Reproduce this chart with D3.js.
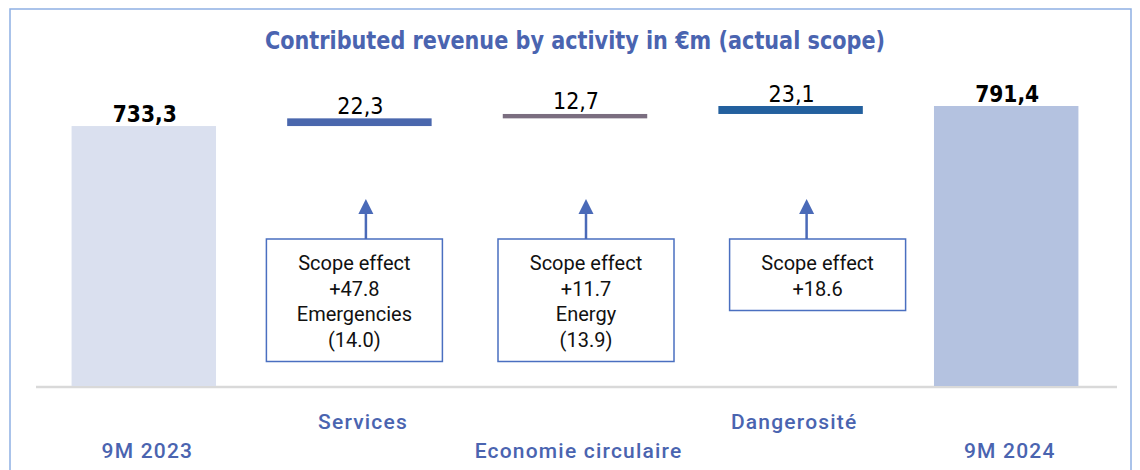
<!DOCTYPE html>
<html>
<head>
<meta charset="utf-8">
<script src="https://cdn.jsdelivr.net/npm/d3@7"></script>
<style>
  body { margin: 0; background: #fff; }
  svg { display: block; }
  .cond { font-family: "DejaVu Sans Condensed", "Liberation Sans Narrow", sans-serif; font-stretch: condensed; }
  .cat { font-family: Roboto, "Noto Sans", sans-serif; font-weight: 500; letter-spacing: 1.2px; }
  .box-text { font-family: Roboto, "Noto Sans", sans-serif; font-size: 20px; fill: #111; }
</style>
</head>
<body>
<svg id="chart" width="1140" height="470"></svg>
<script>
// categories and values (in €m)
const categories = ['9M 2023', 'Services', 'Economie circulaire', 'Dangerosité', '9M 2024']
const values = [733.3, 22.3, 12.7, 23.1, 791.4]
const valueLabels = ['733,3', '22,3', '12,7', '23,1', '791,4']
const barKinds = ['total', 'delta', 'delta', 'delta', 'total']

// scope effect notes hanging under the activity bars
const noteCategories = ['Services', 'Economie circulaire', 'Dangerosité']
const noteLines = [
	['Scope effect', '+47.8', 'Emergencies', '(14.0)'],
	['Scope effect', '+11.7', 'Energy', '(13.9)'],
	['Scope effect', '+18.6']
]

const title = 'Contributed revenue by activity in €m (actual scope)'

const barColors = ['#dae0ef', '#4a67ad', '#7b6e80', '#23609e', '#b4c2e0']
const labelBlue = '#4a64b0'
const baseY = 386

// waterfall: deltas start where the previous bar stopped
let running = 0
const bars = categories.map((name, i) => {
	let lo, hi
	if (barKinds[i] === 'total') {
		lo = null
		hi = values[i]
		running = values[i]
	} else {
		lo = running
		hi = running + values[i]
		running = hi
	}
	return { name, i, lo, hi, label: valueLabels[i], kind: barKinds[i] }
})

const x = d3.scaleBand()
	.domain(categories)
	.range([36, 1114])
	.paddingInner(0.33)
	.paddingOuter(0.165)

// broken value axis: the floor sits a little under zero
const y = d3.scaleLinear()
	.domain([-20, 791.4])
	.range([baseY, 106])

const mid = (c) => x(c) + x.bandwidth() / 2

const svg = d3.select('#chart')

// frame (left, top, right)
svg.append('path')
	.attr('d', 'M10,480 L10,9 L1131,9 L1131,480')
	.attr('fill', 'none')
	.attr('stroke', '#8fb0e3')
	.attr('stroke-width', 1.5)

svg.append('text')
	.attr('class', 'cond')
	.attr('x', 575)
	.attr('y', 49)
	.attr('text-anchor', 'middle')
	.attr('font-size', 24)
	.attr('font-weight', 'bold')
	.attr('fill', labelBlue)
	.attr('textLength', 620)
	.attr('lengthAdjust', 'spacingAndGlyphs')
	.text(title)

// baseline
svg.append('line')
	.attr('x1', x.range()[0])
	.attr('x2', x.range()[1] + 3)
	.attr('y1', baseY + 1)
	.attr('y2', baseY + 1)
	.attr('stroke', '#d9d9d9')
	.attr('stroke-width', 2.5)

svg.selectAll('.bar')
	.data(bars)
	.enter()
		.append('rect')
		.attr('class', 'bar')
		.attr('x', (d) => x(d.name))
		.attr('width', x.bandwidth())
		.attr('y', (d) => y(d.hi))
		.attr('height', (d) => (d.lo === null ? baseY : y(d.lo)) - y(d.hi))
		.attr('fill', (d) => barColors[d.i])

svg.selectAll('.value')
	.data(bars)
	.enter()
		.append('text')
		.attr('class', 'value cond')
		.attr('x', (d) => mid(d.name) + 1)
		.attr('y', (d) => y(d.hi) - 4.5)
		.attr('text-anchor', 'middle')
		.attr('font-size', (d) => d.kind === 'total' ? 22.5 : 23)
		.attr('font-weight', (d) => d.kind === 'total' ? 'bold' : 'normal')
		.attr('fill', '#000')
		.text((d) => d.label)

// category labels, staggered on two rows
svg.selectAll('.cat')
	.data(categories)
	.enter()
		.append('text')
		.attr('class', 'cat')
		.attr('x', (d) => mid(d) + 3.6)
		.attr('y', (d, i) => i % 2 ? 429 : 458)
		.attr('text-anchor', 'middle')
		.attr('font-size', 21)
		.attr('fill', labelBlue)
		.text((d) => d)

// scope notes
const boxW = 176
const boxTop = 239
const lineH = 25.5
const boxShift = [-5, 11, 27]
const arrowShift = [6.5, 11, 16]

const notes = svg.selectAll('.note')
	.data(noteCategories.map((c, k) => ({ c, k, lines: noteLines[k] })))
	.enter()
		.append('g')
		.attr('class', 'note')

notes.append('rect')
	.attr('x', (d) => mid(d.c) + boxShift[d.k] - boxW / 2)
	.attr('y', boxTop)
	.attr('width', boxW)
	.attr('height', (d) => 31 + (d.lines.length - 1) * lineH + 15)
	.attr('fill', '#fff')
	.attr('stroke', '#4a6fc0')
	.attr('stroke-width', 1.5)

notes.each(function (d) {
	const cx = mid(d.c) + boxShift[d.k]
	d3.select(this).selectAll('text')
		.data(d.lines)
		.enter()
			.append('text')
			.attr('class', 'box-text')
			.attr('x', cx)
			.attr('y', (t, j) => boxTop + 31 + j * lineH)
			.attr('text-anchor', 'middle')
			.text((t) => t)
})

// arrows pointing up to the bars
notes.append('line')
	.attr('x1', (d) => mid(d.c) + arrowShift[d.k])
	.attr('x2', (d) => mid(d.c) + arrowShift[d.k])
	.attr('y1', boxTop)
	.attr('y2', 212)
	.attr('stroke', '#4a6ab8')
	.attr('stroke-width', 2.5)

notes.append('path')
	.attr('d', (d) => {
		const ax = mid(d.c) + arrowShift[d.k]
		return `M${ax},199 L${ax + 7.5},214 L${ax - 7.5},214 Z`
	})
	.attr('fill', '#4a6ab8')
</script>
</body>
</html>
